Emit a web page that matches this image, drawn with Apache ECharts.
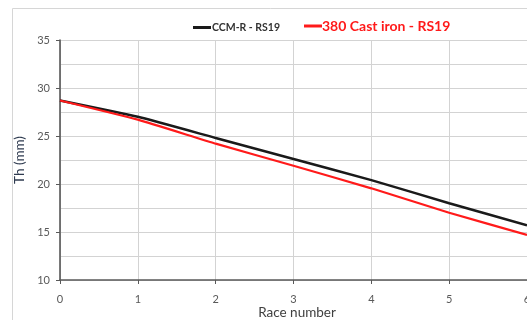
<!DOCTYPE html>
<html>
<head>
<meta charset="utf-8">
<script src="https://cdn.jsdelivr.net/npm/echarts@6/dist/echarts.min.js"></script>
<style>
html,body{margin:0;padding:0;background:#fff;}
#chart{width:527px;height:320px;}
</style>
</head>
<body>
<div id="chart"></div>
<script>
var raceNumbers = [0, 1, 2, 3, 4, 5, 6];
var ccmR = [28.7, 27.0, 24.8, 22.6, 20.4, 18.0, 15.7];
var castIron = [28.7, 26.7, 24.2, 21.9, 19.55, 17.0, 14.7];
var seriesNames = ['CCM-R - RS19', '380 Cast iron - RS19'];
var xTitle = 'Race number';
var yTitle = 'Th (mm)';

function pairs(xs, ys) { return xs.map(function (x, i) { return [x, ys[i]]; }); }

var FONT = 'Lato, "Open Sans", sans-serif';
var chart = echarts.init(document.getElementById('chart'), null, {renderer: 'canvas'});
chart.setOption({
  animation: false,
  backgroundColor: '#ffffff',
  graphic: [{
    type: 'rect',
    shape: {x: 12.5, y: 8.5, width: 600, height: 400},
    style: {fill: 'none', stroke: '#d6d6d6', lineWidth: 1},
    z: -10
  }, {
    type: 'text',
    x: 297, y: 306,
    style: {text: xTitle, fontSize: 13.5, fill: '#404040', fontFamily: FONT, align: 'center', verticalAlign: 'top'}
  }],
  legend: [{
    left: 188, top: 17,
    itemWidth: 18, itemHeight: 3, itemGap: 2,
    icon: 'rect',
    data: [{name: seriesNames[0], textStyle: {color: '#333333', fontWeight: 'bold', fontSize: 10.5, fontFamily: FONT}}],
    textStyle: {padding: [0, 0, 0, -4]}
  }, {
    left: 299, top: 14,
    itemWidth: 18, itemHeight: 3, itemGap: 2,
    icon: 'rect',
    data: [{name: seriesNames[1], textStyle: {color: '#ff1a1a', fontWeight: 'bold', fontSize: 14, fontFamily: FONT}}],
    textStyle: {padding: [0, 0, 0, -5]}
  }],
  grid: {left: 60, top: 40, width: 467, height: 240, containLabel: false, outerBoundsMode: 'none'},
  xAxis: {
    type: 'value', min: 0, max: 6, interval: 1,
    axisLine: {show: true, lineStyle: {color: '#595959', width: 1.5}},
    axisTick: {show: true, length: 4, lineStyle: {color: '#595959'}},
    axisLabel: {fontSize: 11, color: '#595959', margin: 14, fontFamily: FONT},
    splitLine: {show: true, lineStyle: {color: '#d3d3d3', width: 1}}
  },
  yAxis: {
    type: 'value', min: 10, max: 35, interval: 5,
    name: yTitle, nameLocation: 'middle', nameGap: 23, nameRotate: 90,
    nameTextStyle: {fontSize: 13.5, color: '#2e3a4f', fontFamily: FONT},
    axisLine: {show: true, lineStyle: {color: '#4d4d4d', width: 1.5}},
    axisTick: {show: true, length: 4, lineStyle: {color: '#595959'}},
    minorTick: {show: false, splitNumber: 2},
    minorSplitLine: {show: true, lineStyle: {color: '#d3d3d3', width: 1}},
    axisLabel: {fontSize: 11, color: '#595959', margin: 10, fontFamily: FONT},
    splitLine: {show: true, lineStyle: {color: '#d3d3d3', width: 1}}
  },
  series: [{
    name: seriesNames[0], type: 'line', smooth: 0.15, showSymbol: false,
    data: pairs(raceNumbers, ccmR),
    itemStyle: {color: '#1a1a1a'},
    lineStyle: {color: '#1a1a1a', width: 2.5},
    z: 3
  }, {
    name: seriesNames[1], type: 'line', smooth: 0.15, showSymbol: false,
    data: pairs(raceNumbers, castIron),
    itemStyle: {color: '#ff1a1a'},
    lineStyle: {color: '#ff1a1a', width: 2.2},
    z: 4
  }]
});
</script>
</body>
</html>
